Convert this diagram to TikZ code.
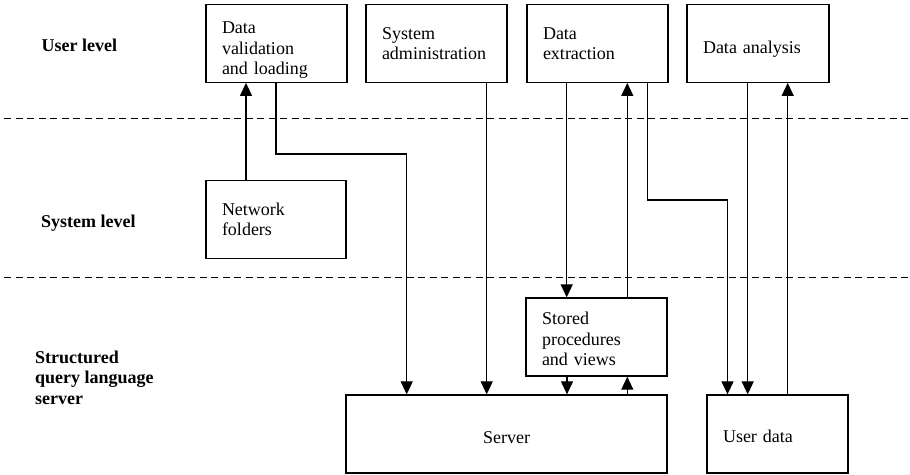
\documentclass[tikz,border=0pt]{standalone}
\usepackage{fontspec}
\setmainfont{Liberation Serif}
\usetikzlibrary{arrows.meta}
\newcommand{\lift}[1]{\rule{0pt}{#1}}
\begin{document}
\begin{tikzpicture}[x=1pt,y=-1pt,
  bx/.style={draw, line width=1.3pt, inner xsep=16pt, inner ysep=0pt, align=left,
    minimum height=77.5pt, font=\fontsize{18}{20.5}\selectfont},
  arr/.style={line width=1.2pt, -{Triangle[length=13pt,width=12pt]}},
  sepline/.style={line width=1.2pt, dash pattern=on 7pt off 4.5pt},
  lvl/.style={font=\fontsize{18}{20.5}\selectfont\bfseries, inner sep=0pt, align=left}]
\useasboundingbox (0,0) rectangle (910,474);

% separators
\draw[sepline] (4,118.5) -- (910,118.5);
\draw[sepline] (4,277.5) -- (910,277.5);

% level labels
\node[lvl, anchor=base west] (ul) at (41.5,51.5) {User level};
\node[lvl, anchor=base west] (sl) at (41,227) {System level};
\node[lvl, anchor=north west] (ql) at (35,350.5) {Structured\\query language\\server};

% boxes
\node[bx, text width=109pt] (dvl) at (276.5,43.5) {\lift{25pt}Data\\validation\\and loading};
\node[bx, text width=109pt] (sa) at (436.5,43.5) {System\\administration};
\node[bx, text width=109pt] (de) at (597.5,43.5) {Data\\extraction};
\node[bx, text width=110pt] (da) at (758,43.5) {\lift{24pt}Data analysis};
\node[bx, text width=108pt] (nf) at (276,219.5) {Network\\folders};
\node[bx, text width=109pt, minimum height=78pt] (sp) at (596.5,337) {\lift{17pt}Stored\\procedures\\and views};
\node[bx, text width=289pt, align=center, minimum height=78pt] (srv) at (506.5,434) {\lift{18.5pt}Server};
\node[bx, text width=109pt, minimum height=78pt] (ud) at (777.5,434) {\lift{18pt}User data};

% connectors
\draw[arr] (nf.north -| 246,0) -- (dvl.south -| 246,0);
\draw[arr] (dvl.south -| 276,0) |- (406.7,154) -- (srv.north -| 406.7,0);
\draw[arr] (sa.south -| 486.7,0) -- (srv.north -| 486.7,0);
\draw[arr] (de.south -| 566.7,0) -- (sp.north -| 566.7,0);
\draw[arr] (sp.north -| 627.3,0) -- (de.south -| 627.3,0);
\draw[arr] (de.south -| 647.3,0) |- (727.5,200) -- (ud.north -| 727.5,0);
\draw[arr] (da.south -| 747.7,0) -- (ud.north -| 747.7,0);
\draw[arr] (ud.north -| 787.7,0) -- (da.south -| 787.7,0);
\draw[arr] (sp.south -| 567,0) -- (srv.north -| 567,0);
\draw[arr] (srv.north -| 627.3,0) -- (sp.south -| 627.3,0);
\end{tikzpicture}
\end{document}
